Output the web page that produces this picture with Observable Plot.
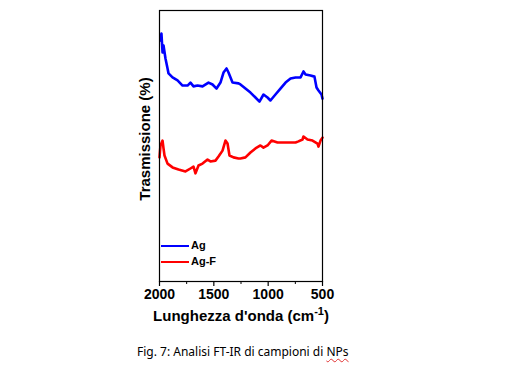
<!DOCTYPE html>
<html>
<head>
<meta charset="utf-8">
<script src="https://cdn.jsdelivr.net/npm/d3@7"></script>
<script src="https://cdn.jsdelivr.net/npm/@observablehq/plot@0.6"></script>
<style>
  body { margin: 0; background: #fff; }
  #wrap { position: relative; width: 512px; height: 367px; overflow: hidden; }
  #wrap svg { position: absolute; left: 0; top: 0; }
  .leg { position: absolute; font: bold 11px "Liberation Sans", Arial, sans-serif; color: #000; }
  .sw { position: absolute; height: 2.5px; width: 28px; }
  #caption { position: absolute; left: 137px; top: 343px; font: 12px "Noto Sans", "Open Sans", sans-serif; color: #000; white-space: nowrap; }
  #caption .sp { text-decoration: underline wavy #e03030; text-decoration-thickness: 1px; text-underline-offset: 2px; }
</style>
</head>
<body>
<div id="wrap"></div>
<script>
// Wavenumber (cm-1) and transmission (arbitrary %)
const agWn = [1991, 1982, 1972, 1963, 1945, 1926, 1917, 1880, 1834, 1788, 1742, 1715, 1687, 1650, 1604, 1549, 1512, 1475, 1439, 1411, 1383, 1365, 1328, 1273, 1255, 1209, 1163, 1117, 1080, 1043, 1006, 979, 933, 887, 840, 794, 748, 702, 675, 656, 610, 574, 555, 537, 509, 500];
const agT  = [88.9, 91.5, 84.5, 87.1, 82.3, 78.6, 76.8, 75.3, 74.2, 72.3, 72.3, 73.4, 72.0, 72.3, 72.0, 73.4, 72.7, 71.2, 73.4, 77.1, 78.6, 77.1, 73.4, 73.1, 72.7, 71.2, 69.7, 67.9, 66.4, 69.0, 67.9, 66.8, 69.0, 71.2, 73.4, 74.9, 75.3, 75.3, 77.5, 76.4, 76.0, 75.6, 71.6, 70.5, 69.0, 67.5];
const agfWn = [2000, 1991, 1972, 1963, 1954, 1926, 1880, 1825, 1761, 1715, 1687, 1669, 1641, 1604, 1558, 1531, 1485, 1457, 1420, 1393, 1374, 1356, 1319, 1273, 1255, 1209, 1163, 1117, 1071, 1043, 1006, 969, 914, 859, 794, 748, 721, 684, 675, 638, 592, 546, 537, 518, 500];
const agfT  = [45.8, 50.2, 52.0, 49.1, 46.5, 43.5, 42.1, 41.3, 40.6, 41.7, 42.4, 39.9, 42.8, 43.5, 45.0, 44.3, 44.6, 46.1, 48.3, 52.0, 50.9, 46.5, 45.8, 45.4, 45.4, 45.8, 47.6, 49.1, 50.2, 49.4, 50.2, 52.0, 51.3, 51.3, 51.3, 51.3, 51.7, 52.4, 53.5, 52.4, 52.0, 50.9, 49.8, 52.0, 53.1];
const majorTicks = [2000, 1500, 1000, 500];
const minorTicks = [1750, 1250, 750];
const seriesNames = ["Ag", "Ag-F"];
const seriesColors = ["#0000ff", "#ff0000"];
const xLabel = "Lunghezza d'onda (cm-1)";
const yLabel = "Trasmissione (%)";
const captionText = "Fig. 7: Analisi FT-IR di campioni di ";
const captionTail = "NPs";

const ag = agWn.map((w, i) => ({wn: w, t: agT[i]}));
const agf = agfWn.map((w, i) => ({wn: w, t: agfT[i]}));

const font = "Arial, 'Liberation Sans', sans-serif";
const plot = Plot.plot({
  width: 512,
  height: 367,
  marginLeft: 159,
  marginRight: 190,
  marginTop: 10,
  marginBottom: 86,
  style: {fontFamily: font, background: "white", color: "black", overflow: "visible"},
  x: {domain: [2000, 500]},
  y: {domain: [0, 100]},
  marks: [
    Plot.line(ag, {x: "wn", y: "t", stroke: seriesColors[0], strokeWidth: 2.6, strokeLinejoin: "round"}),
    Plot.line(agf, {x: "wn", y: "t", stroke: seriesColors[1], strokeWidth: 2.6, strokeLinejoin: "round"}),
    Plot.frame({stroke: "#000", strokeWidth: 1.2}),
    Plot.axisX({ticks: majorTicks, tickFormat: d3.format("d"), tickSize: 5, tickPadding: 3, fontSize: 14, fontWeight: "bold", fontFamily: font, label: null, stroke: "#000", strokeWidth: 1.2}),
    Plot.axisX({ticks: minorTicks, tickSize: 3, text: null, label: null, stroke: "#000"}),
    Plot.axisY({ticks: [], label: null}),
    Plot.text([xLabel], {frameAnchor: "bottom", dy: 35, text: d => d, fontSize: 15, fontWeight: "bold", fontFamily: font, lineAnchor: "middle"}),
    Plot.text([yLabel], {frameAnchor: "left", dx: -14, dy: -7, rotate: -90, text: d => d, fontSize: 15, fontWeight: "bold", fontFamily: font, textAnchor: "middle"})
  ]
});

// superscript in x label
d3.select(plot).selectAll("text").filter(function() { return this.textContent === xLabel; }).each(function() {
  const t = d3.select(this);
  t.text(null);
  t.append("tspan").text("Lunghezza d'onda (cm");
  t.append("tspan").attr("dy", -6).attr("font-size", 11).text("-1");
  t.append("tspan").attr("dy", 6).text(")");
});

const wrap = document.getElementById("wrap");
wrap.appendChild(plot);

// legend
const legY = [246, 262];
seriesNames.forEach((name, i) => {
  const sw = document.createElement("div");
  sw.className = "sw";
  sw.style.left = "161px";
  sw.style.top = (legY[i] - 1.25) + "px";
  sw.style.background = seriesColors[i];
  wrap.appendChild(sw);
  const lb = document.createElement("div");
  lb.className = "leg";
  lb.style.left = "191px";
  lb.style.top = (legY[i] - 7) + "px";
  lb.textContent = name;
  wrap.appendChild(lb);
});

const cap = document.createElement("div");
cap.id = "caption";
cap.textContent = captionText;
const sp = document.createElement("span");
sp.className = "sp";
sp.textContent = captionTail;
cap.appendChild(sp);
wrap.appendChild(cap);
</script>
</body>
</html>
